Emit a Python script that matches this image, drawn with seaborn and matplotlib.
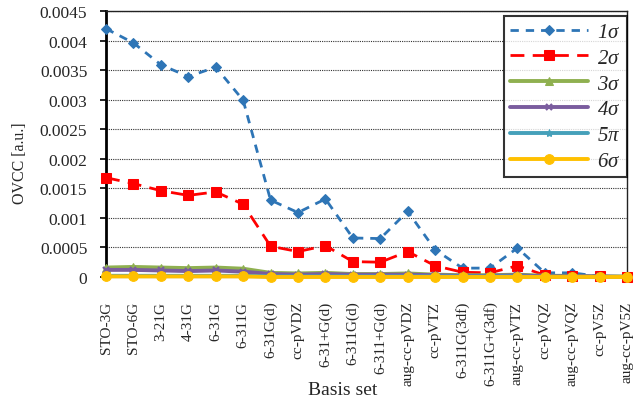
import matplotlib
matplotlib.use("Agg")
import matplotlib.pyplot as plt
import seaborn as sns
import pandas as pd

basis_sets = ["STO-3G", "STO-6G", "3-21G", "4-31G", "6-31G", "6-311G",
              "6-31G(d)", "cc-pVDZ", "6-31+G(d)", "6-311G(d)", "6-311+G(d)",
              "aug-cc-pVDZ", "cc-pVTZ", "6-311G(3df)", "6-311G+(3df)",
              "aug-cc-pVTZ", "cc-pVQZ", "aug-cc-pVQZ", "cc-pV5Z", "aug-cc-pV5Z"]

ovcc_1s = [0.00420, 0.00396, 0.00359, 0.00339, 0.00355, 0.00299, 0.00130, 0.00109,
           0.00132, 0.00066, 0.00065, 0.00111, 0.00046, 0.00015, 0.00015, 0.00049,
           0.00007, 0.00007, 0.00001, 0.00000]
ovcc_2s = [0.00168, 0.00158, 0.00146, 0.00138, 0.00144, 0.00123, 0.00052, 0.00043,
           0.00053, 0.00026, 0.00025, 0.00043, 0.00019, 0.00008, 0.00007, 0.00019,
           0.00003, 0.00002, 0.00001, 0.00000]
ovcc_3s = [0.00016, 0.00017, 0.00016, 0.00015, 0.00016, 0.00014, 0.00007, 0.00006,
           0.00007, 0.00005, 0.00005, 0.00006, 0.00004, 0.00003, 0.00003, 0.00004,
           0.00002, 0.00002, 0.00001, 0.00001]
ovcc_4s = [0.00012, 0.00012, 0.00011, 0.00010, 0.00011, 0.00009, 0.00005, 0.00004,
           0.00005, 0.00004, 0.00004, 0.00004, 0.00003, 0.00002, 0.00002, 0.00003,
           0.00001, 0.00001, 0.00001, 0.00000]
ovcc_5p = [0.00002, 0.00002, 0.00002, 0.00002, 0.00002, 0.00002, 0.00001, 0.00001,
           0.00001, 0.00001, 0.00001, 0.00001, 0.00001, 0.00001, 0.00001, 0.00001,
           0.00000, 0.00000, 0.00000, 0.00000]
ovcc_6s = [0.00001, 0.00001, 0.00001, 0.00001, 0.00001, 0.00001, 0.00000, 0.00000,
           0.00000, 0.00000, 0.00000, 0.00000, 0.00000, 0.00000, 0.00000, 0.00000,
           0.00000, 0.00000, 0.00000, 0.00000]

orbital_labels = [r"1$\sigma$", r"2$\sigma$", r"3$\sigma$", r"4$\sigma$", r"5$\pi$", r"6$\sigma$"]
y_ticks = [0, 0.0005, 0.001, 0.0015, 0.002, 0.0025, 0.003, 0.0035, 0.004, 0.0045]
y_tick_labels = ["0", "0.0005", "0.001", "0.0015", "0.002", "0.0025", "0.003",
                 "0.0035", "0.004", "0.0045"]

sns.set_theme(style="white")
plt.rcParams["font.family"] = ["Liberation Serif", "DejaVu Serif"]
plt.rcParams["mathtext.fontset"] = "custom"
plt.rcParams["mathtext.it"] = "Liberation Serif:italic"
plt.rcParams["mathtext.rm"] = "Liberation Serif"

series = [ovcc_1s, ovcc_2s, ovcc_3s, ovcc_4s, ovcc_5p, ovcc_6s]
styles = [
    dict(color="#2E75B6", linestyle=(0, (3, 2.5)), marker="D", markersize=5.5, linewidth=2.0),
    dict(color="#FF0000", linestyle=(0, (5, 3)), marker="s", markersize=6.5, linewidth=2.0),
    dict(color="#8FB050", linestyle="-", marker="^", markersize=6, linewidth=2.8),
    dict(color="#7A5C9E", linestyle="-", marker="x", markersize=5, linewidth=2.8, mew=1.6),
    dict(color="#45A0BA", linestyle="-", marker="*", markersize=6, linewidth=2.8),
    dict(color="#FFC000", linestyle="-", marker="o", markersize=7, linewidth=2.8),
]

fig = plt.figure(figsize=(6.36, 4.06), dpi=100)
ax = fig.add_axes([0.1667, 0.3153, 0.8193, 0.6552])

for vals, lab, st in zip(series, orbital_labels, styles):
    df = pd.DataFrame({"basis": basis_sets, "ovcc": vals})
    sns.lineplot(data=df, x="basis", y="ovcc", ax=ax, label=lab, sort=False,
                 markeredgecolor=st["color"], clip_on=False, zorder=3, **st)

ax.set_xlim(0, len(basis_sets) - 1)
ax.set_ylim(0, 0.0045)
ax.set_yticks(y_ticks)
ax.set_yticklabels(y_tick_labels, fontfamily="Liberation Serif")
ax.set_xticks(range(len(basis_sets)))
ax.set_xticklabels(basis_sets, rotation=90, fontfamily="Liberation Serif")
ax.tick_params(axis="y", labelsize=12.5, length=4.5, width=1.2, direction="out",
               color="black", left=True, pad=9)
ax.tick_params(axis="x", labelsize=11, length=0, pad=17)

ax.yaxis.grid(True, linestyle=(0, (1, 1)), color="#333333", linewidth=0.8)
ax.set_axisbelow(True)

for side in ["top", "right"]:
    ax.spines[side].set_color("#222222")
    ax.spines[side].set_linewidth(1.0)
ax.spines["left"].set_color("black")
ax.spines["left"].set_linewidth(2.0)
ax.spines["bottom"].set_color("#BFBFBF")
ax.spines["bottom"].set_linewidth(1.0)

ax.set_xlabel("Basis set", fontsize=14)
ax.xaxis.set_label_coords(0.455, -0.39)
ax.set_ylabel("OVCC [a.u.]", fontsize=11.5)
ax.yaxis.set_label_coords(-0.15, 0.43)

leg = ax.legend(loc="upper right", bbox_to_anchor=(0.999, 0.981), frameon=True,
                fancybox=False, edgecolor="black", fontsize=15, handlelength=3.7,
                labelspacing=0.3, borderpad=0.3, handletextpad=0.45,
                borderaxespad=0.0)
leg.get_frame().set_linewidth(1.5)
for t in leg.get_texts():
    t.set_fontstyle("italic")

fig.savefig("out.png", dpi=100)
